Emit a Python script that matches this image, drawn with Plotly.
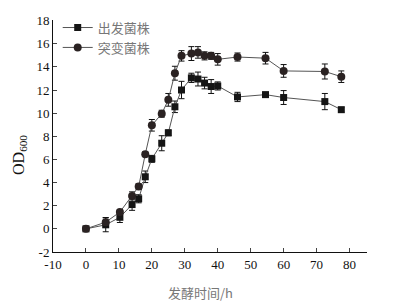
import plotly.graph_objects as go

time_a = [0, 6, 10.3, 14, 16, 18, 20, 23, 25, 27, 29, 32, 34, 36, 38, 40, 46, 54.5, 60, 72.5, 77.5]
od_start = [0, 0.35, 1.0, 2.1, 2.6, 4.5, 6.05, 7.4, 8.3, 10.55, 12.0, 13.05, 12.95, 12.6, 12.3, 12.35, 11.4, 11.6, 11.35, 11.0, 10.3]
err_start = [0.1, 0.6, 0.45, 0.5, 0.35, 0.5, 0.3, 0.65, 0.25, 0.5, 0.75, 0.4, 0.6, 0.5, 0.6, 0.35, 0.4, 0.2, 0.6, 0.7, 0.2]
od_mut = [0, 0.58, 1.45, 2.85, 3.65, 6.45, 8.95, 9.95, 11.15, 13.45, 14.95, 15.15, 15.25, 14.95, 14.95, 14.65, 14.85, 14.75, 13.65, 13.6, 13.15]
err_mut = [0.1, 0.4, 0.2, 0.35, 0.25, 0.2, 0.5, 0.3, 0.55, 0.6, 0.45, 0.6, 0.5, 0.35, 0.3, 0.5, 0.35, 0.5, 0.55, 0.65, 0.5]

names = ["出发菌株", "突变菌株"]
x_ticks = [-10, 0, 10, 20, 30, 40, 50, 60, 70, 80]
x_labels = ["-10", "0", "10", "20", "30", "40", "50", "60", "70", "80"]
y_ticks = [-2, 0, 2, 4, 6, 8, 10, 12, 14, 16, 18]
y_labels = ["-2", "0", "2", "4", "6", "8", "10", "12", "14", "16", "18"]

serif = "Liberation Serif"
cjk = "Noto Sans CJK SC"

fig = go.Figure()
fig.add_trace(go.Scatter(
    x=time_a, y=od_start, name=names[0], mode="lines+markers",
    line=dict(color="#555555", width=1),
    marker=dict(symbol="square", size=7, color="#151515"),
    error_y=dict(type="data", array=err_start, color="#111111", thickness=1, width=3),
))
fig.add_trace(go.Scatter(
    x=time_a, y=od_mut, name=names[1], mode="lines+markers",
    line=dict(color="#555555", width=1),
    marker=dict(symbol="circle", size=8, color="#2a2222"),
    error_y=dict(type="data", array=err_mut, color="#111111", thickness=1, width=3),
))

fig.update_layout(
    width=415, height=302,
    margin=dict(l=53, r=48, t=20, b=50, autoexpand=False),
    paper_bgcolor="white", plot_bgcolor="white",
    font=dict(family=serif, size=13, color="#111111"),
    showlegend=True,
    legend=dict(x=0.015, y=1.032, xanchor="left", yanchor="top",
                bgcolor="rgba(0,0,0,0)", font=dict(family=cjk, size=13, color="#777777"),
                tracegroupgap=0, itemwidth=30),
    xaxis=dict(range=[-10, 85.3], tickvals=x_ticks, ticktext=x_labels, ticks="inside", ticklen=4,
               showline=True, linecolor="#111111", linewidth=1, showgrid=False, automargin=False,
               zeroline=False, tickfont=dict(family=serif, size=13, color="#111111")),
    yaxis=dict(range=[-2, 18.05], tickvals=y_ticks, ticktext=y_labels, ticks="inside", ticklen=4,
               showline=True, linecolor="#111111", linewidth=1, showgrid=False, automargin=False,
               zeroline=False, tickfont=dict(family=serif, size=13, color="#111111")),
)
fig.add_annotation(text="发酵时间/h", xref="paper", yref="paper", x=(200-53)/313.7, y=-(292-252)/232,
                   xanchor="center", yanchor="middle", showarrow=False,
                   font=dict(family=cjk, size=13, color="#777777"))
fig.add_annotation(text="OD<sub>600</sub>", xref="paper", yref="paper", x=-(53-19)/313.7, y=(252-155)/232,
                   xanchor="center", yanchor="middle", showarrow=False, textangle=-90,
                   font=dict(family=serif, size=16, color="#111111"))
fig.write_html("out.html", config={"displayModeBar": False},
               post_script="document.body.style.margin='0';document.body.style.overflow='hidden';")
